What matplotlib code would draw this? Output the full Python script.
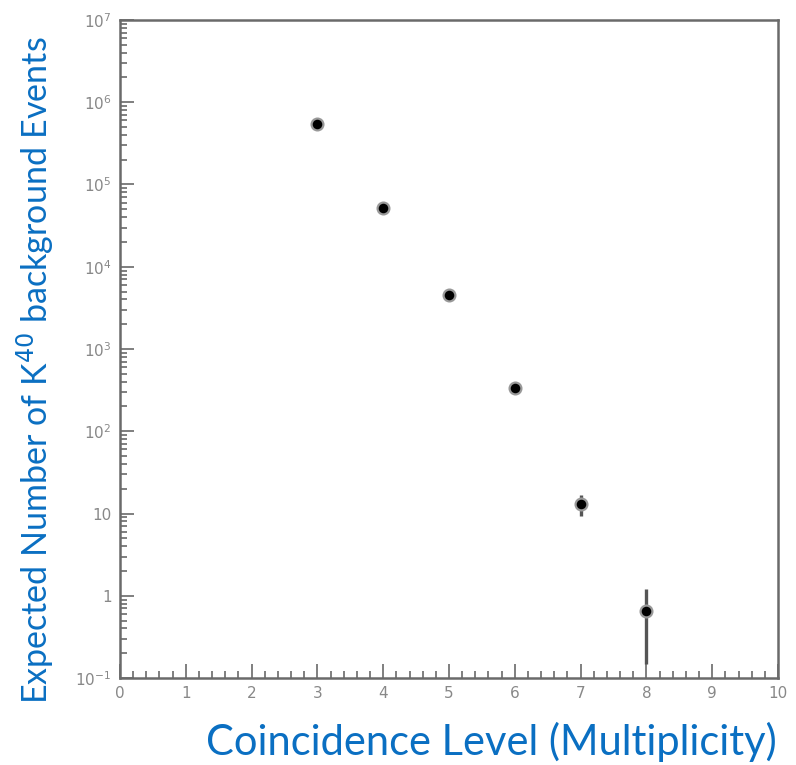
import numpy as np
import matplotlib
matplotlib.use("Agg")
import matplotlib.pyplot as plt
from matplotlib.ticker import FixedLocator, MultipleLocator, LogLocator, NullFormatter

# data
multiplicity = [3, 4, 5, 6, 7, 8]
events = [5.4e5, 5.2e4, 4.5e3, 340, 13, 0.65]
err_low = [0, 0, 0, 0, 3.8, 0.5]
err_high = [0, 0, 0, 0, 3.6, 0.57]

y_ticks = [1e-1, 1, 10, 1e2, 1e3, 1e4, 1e5, 1e6, 1e7]
y_ticklabels = [r"$10^{-1}$", "1", "10", r"$10^{2}$", r"$10^{3}$", r"$10^{4}$",
                r"$10^{5}$", r"$10^{6}$", r"$10^{7}$"]

blue = "#0A6FC2"
grey = "#6a6a6a"

fig = plt.figure(figsize=(7.96, 7.65), dpi=100)
ax = fig.add_axes([120 / 796, 1 - 678 / 765, 658 / 796, 658 / 765])

ax.errorbar(multiplicity, events, yerr=[err_low, err_high], fmt="o",
            color="black", ecolor="#555555", elinewidth=2.4, capsize=0,
            markersize=8.5, markeredgecolor="#999999", markeredgewidth=1.6)

ax.set_yscale("log")
ax.set_xlim(0, 10)
ax.set_ylim(1e-1, 1e7)

ax.xaxis.set_major_locator(MultipleLocator(1))
ax.xaxis.set_minor_locator(MultipleLocator(0.2))
ax.yaxis.set_major_locator(FixedLocator(y_ticks))
ax.set_yticklabels(y_ticklabels)
ax.yaxis.set_minor_locator(LogLocator(base=10, subs=np.arange(2, 10), numticks=20))
ax.yaxis.set_minor_formatter(NullFormatter())

ax.tick_params(which="both", direction="in", top=False, right=False,
               colors=grey, labelcolor="#888888", labelsize=11, width=1.2)
ax.tick_params(which="major", length=10, pad=6)
ax.tick_params(which="minor", length=5)
for s in ax.spines.values():
    s.set_color(grey)
    s.set_linewidth(1.8)

# slightly smaller than the slide so the whole title stays on the canvas
fig.text(206 / 796, 1 - 742 / 765, "Coincidence Level (Multiplicity)",
         color=blue, fontsize=30, family="Lato", va="center", ha="left")
fig.text(35 / 796, 1 - 370 / 765, r"Expected Number of K$^{40}$ background Events",
         color=blue, fontsize=24.5, family="Lato", rotation=90, va="center", ha="center")

fig.savefig("out.png", dpi=100, facecolor="white")
